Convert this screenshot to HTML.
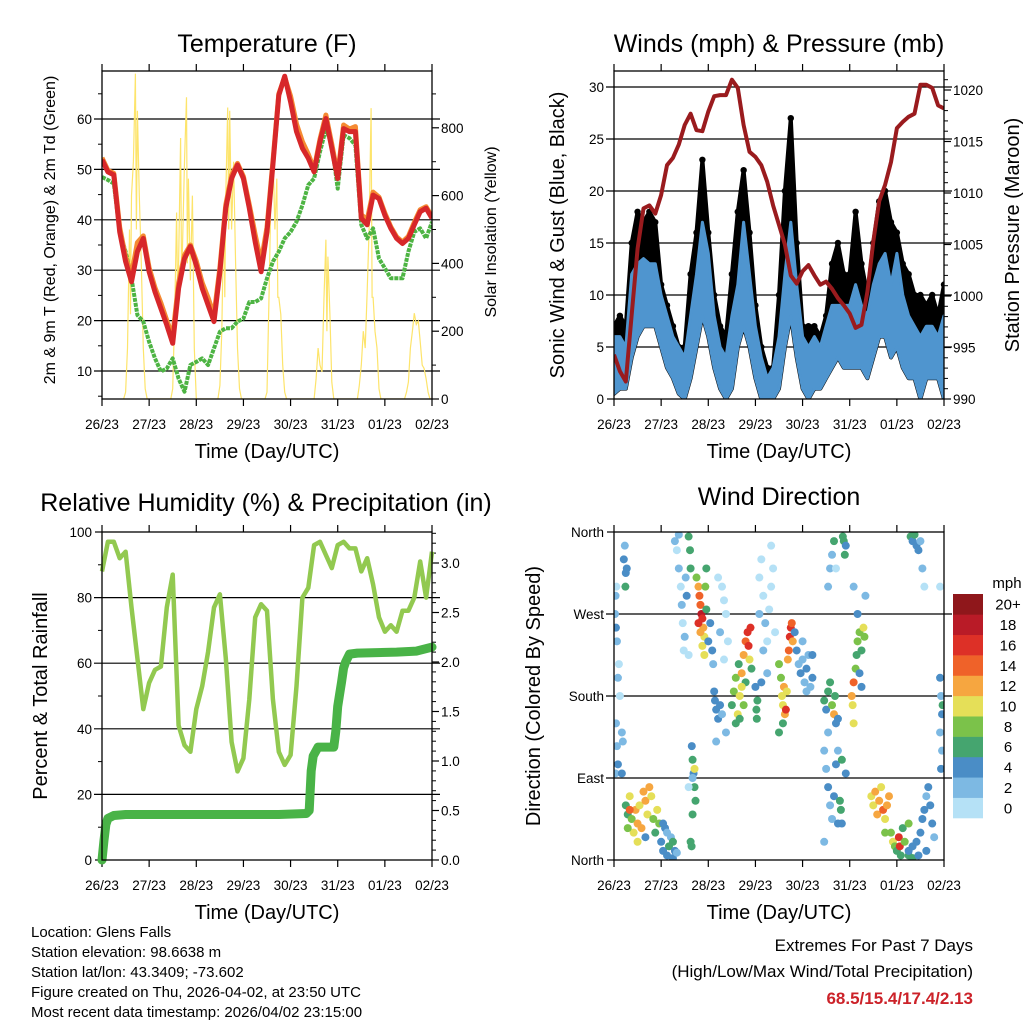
<!DOCTYPE html>
<html><head><meta charset="utf-8"><style>
html,body{margin:0;padding:0;background:#fff;}
svg{display:block;font-family:"Liberation Sans",Arial,sans-serif;}
</style></head><body>
<svg id="fig" width="1024" height="1024" viewBox="0 0 1024 1024" xmlns="http://www.w3.org/2000/svg">
<rect x="0" y="0" width="1024" height="1024" fill="#fff"/>
<text x="267" y="52" font-size="25" text-anchor="middle">Temperature (F)</text>
<text x="779" y="52" font-size="25" text-anchor="middle">Winds (mph) &amp; Pressure (mb)</text>
<text x="266" y="511" font-size="25" text-anchor="middle">Relative Humidity (%) &amp; Precipitation (in)</text>
<text x="779" y="505" font-size="25" text-anchor="middle">Wind Direction</text>
<text x="267" y="458" font-size="20" text-anchor="middle">Time (Day/UTC)</text>
<text x="779" y="458" font-size="20" text-anchor="middle">Time (Day/UTC)</text>
<text x="267" y="919" font-size="20" text-anchor="middle">Time (Day/UTC)</text>
<text x="779" y="919" font-size="20" text-anchor="middle">Time (Day/UTC)</text>
<text transform="translate(55,230) rotate(-90)" font-size="16" text-anchor="middle">2m &amp; 9m T (Red, Orange) &amp; 2m Td (Green)</text>
<text transform="translate(496,232) rotate(-90)" font-size="16" text-anchor="middle">Solar Insolation (Yellow)</text>
<text transform="translate(564,235) rotate(-90)" font-size="20" text-anchor="middle">Sonic Wind &amp; Gust (Blue, Black)</text>
<text transform="translate(1019,235) rotate(-90)" font-size="20" text-anchor="middle">Station Pressure (Maroon)</text>
<text transform="translate(47,696) rotate(-90)" font-size="20" text-anchor="middle">Percent &amp; Total Rainfall</text>
<text transform="translate(540,696) rotate(-90)" font-size="20" text-anchor="middle">Direction (Colored By Speed)</text>
<g font-size="15">
<text x="31" y="937">Location: Glens Falls</text>
<text x="31" y="957">Station elevation: 98.6638 m</text>
<text x="31" y="977">Station lat/lon: 43.3409; -73.602</text>
<text x="31" y="997">Figure created on Thu, 2026-04-02, at 23:50 UTC</text>
<text x="31" y="1017">Most recent data timestamp: 2026/04/02 23:15:00</text>
</g>
<text x="973" y="951" font-size="17" text-anchor="end">Extremes For Past 7 Days</text>
<text x="973" y="977" font-size="17" text-anchor="end">(High/Low/Max Wind/Total Precipitation)</text>
<text x="973" y="1004" font-size="17" font-weight="bold" fill="#cc2229" text-anchor="end">68.5/15.4/17.4/2.13</text>
<text x="1007" y="588" font-size="15" text-anchor="middle">mph</text>
</svg>
<script>
const dayLabels = ["26/23","27/23","28/23","29/23","30/23","31/23","01/23","02/23"];
const tHours = [0,3,6,9,12,15,18,21,24,27,30,33,36,39,42,45,48,51,54,57,60,63,66,69,72,75,78,81,84,87,90,93,96,99,102,105,108,111,114,117,120,123,126,129,132,135,138,141,144,147,150,153,156,159,162,165,168];
const temp2m = [51.9,49.5,48.9,37.6,31.7,27.7,33.7,36.3,29.7,25.7,22.4,19.1,15.5,26.4,32.3,34.7,31,26.4,23.1,19.8,29.7,42.3,48.2,50.9,48.2,42.3,35.6,29.7,37.6,50.9,64.7,68.5,63.4,57.5,54.2,52.2,49.5,55.5,60.1,54.2,48.2,58.1,57.5,57.5,40.3,39,44.9,44.2,40.9,38.3,36.3,35.3,36.3,39,41.6,42.3,40.3];
const temp9m = [52.3,49.8,49.2,38.5,32.5,29,35.5,36.8,30.5,26.5,23.5,20,16.8,27.5,33,35,31.8,27.5,24.5,21,30.5,43,48.8,51.2,48.6,43,37,31.5,38.5,51.5,65,68.3,64.5,59,55.5,53,50,56,60.8,55,48.8,58.8,58,58.5,41,40,45.5,44.5,41.3,38.6,36.6,35.6,36.7,39.5,42,42.6,40.6];
const dewpt = [48.5,47.9,47.2,37.6,33.7,28.4,21.1,19.8,15.8,12.5,9.9,10.5,12.5,8.5,5.9,11.2,11.8,12.5,11.2,14.5,17.8,18.5,18.5,19.8,20.4,23.7,23.7,24.4,28.4,31.7,33.7,36.3,37.6,39.6,42.9,46.9,48.2,53.5,58.1,54.8,46.2,56.8,56.2,54.8,39,36.3,38.3,32.3,30.4,28.4,28.4,28.4,33.7,37.6,38.3,36.3,39.6];
const solarHours = [11,12,13,14,14.5,15,16,17,17.5,18,19,20,21,22,23, 35,36,37,38,38.5,39,40,40.5,41,42,43,43.5,44,45,46,47,48, 59,60,61,62,62.5,63,64,64.5,65,66,67,68,69,70,71, 83,84,85,86,87,88,89,89.5,90,91,92,93,94, 108,109,110,111,112,113,114,114.5,115,116,117,118, 130,131,132,133,134,135,136,137,137.5,138,139,140,141,142, 154,155,156,157,158,159,160,161,162,163,164,165,166,167];
const solarVals = [0,20,150,500,250,600,700,960,500,850,600,400,150,30,0, 0,30,250,550,300,400,770,350,450,700,890,400,650,350,600,150,0, 0,40,200,550,300,600,860,500,850,500,700,400,150,30,0, 0,20,300,600,740,500,650,300,300,250,100,20,0, 0,60,150,100,80,300,470,200,420,250,50,0, 0,40,100,200,150,320,500,858,300,300,200,150,30,0, 0,20,50,150,200,253,220,230,170,100,90,60,20,0];
const pressure = [994.3,992.7,991.7,998.2,1004.6,1008.5,1008.8,1008,1009.8,1012.7,1013.4,1014.7,1016.6,1017.7,1016.1,1016,1017.9,1019.4,1019.5,1019.5,1021,1020.2,1016.6,1014,1013.5,1012.7,1011.1,1008.8,1006.9,1005,1002,1001.2,1002.4,1003,1002,1001.1,1001.4,1000.7,999.8,999.1,998.3,996.9,997.2,1000.4,1005.3,1009.2,1010.8,1013,1016.3,1016.9,1017.4,1017.7,1020.5,1020.5,1020.2,1018.5,1018.2];
const windLo = [0.5,1,1,4,6,7,7,7,5,3,2,0.5,0,2,5,8,6,3,1,0,1,5,7,5,2,0,0,0,1,5,8,4,1,0,1,1,2,3,4,3,3,3,3,2,4,6,6,4,5,3,2,2,0,2,2,2,0];
const windHi = [6,6,5,12,13,13.5,13,13,10,8,6,5,4,8,12,17,14,8,5,4,8,11,17,12,7,4,2,3,6,12,17,11,6,5,6,5,7,9,9,9,9,11,9,8,11,13,14,11,14,10,8,7,6,7,7,6,8];
const gust = [7,8,7,15,18,17,18,17,11,9,7,5,5,12,16,23,16,10,7,6,12,18,22,16,9,5,3,3,10,20,27,15,7,7,7,6,8,13,15,12,12,18,13,10,15,19,20,17,16,13,12,10,10,9,10,8,11];
const rh = [88,97,97,92,94,77,61.5,46,54,58,59,77,87,41,35,33,46,53,63.5,77,81,61.5,36,27,31,49,74,78,76,49,33,29,32,53,80,83,96,97,93,89,96,97,95,95,88,92,84,74,69.6,71.6,69.6,76,76,80,91,80,94];
const precipHours = [0,1,2,3,6,12,30,60,90,104,105.5,106.5,107.5,110,118,119,120,121,122,123,124,126,130,150,160,168];
const precipVals = [0,0.2,0.36,0.42,0.45,0.46,0.46,0.46,0.46,0.47,0.5,0.9,1.05,1.14,1.14,1.3,1.55,1.68,1.8,1.94,2.0,2.08,2.09,2.1,2.11,2.15];
const dirHours = [0.5,0.8,1,1.2,1.5,2,2.5,1,1.5,2,0.7,3,4,4.5,5,5.5,6,5.8,6.5,4,
6,7,8,9,10,11,12,13,14,15,16,17,18,19,20,21,22,23,12,16,8,7,
24,25,26,27,28,29,30,31,25,27,32,30,
31,32,33,34,34.5,35,36,35.5,36.5,37,38,38.7,39,33,38,
39.6,40,40.5,41,41.5,40,39,39.5,41,40,38,
42,43,43.5,44,44.5,45,45.5,46,43,44,45,46,46.5,47,48,49,50,50.5,47,
51.4,52,53,54,51,55,55,56,57,54,58,52,57,53,56,
60,61,62,63,63.5,64,65,66,67,68,68.5,69,67,66,62,64,69.5,65,70,
72.5,73,72.7,72,
74,75,76,77,78,79,80,81,82,76,78,74,80,75,
84,85,85.5,86,86.5,87,87.5,88,88.5,89,89.5,90,90.5,91,86,84,
93,94,95,96,97,98,99,100,101,96,101,92,98,
107,108,109,110,111,112,112.5,113,114,109,107,108,109,110,111,112,113,114,115,115.5,116,114,107,109,110,111,112,113,
116.5,117,117.5,118,116,118,
121,122,123,123.5,124,125,126,127,127.5,121.5,122,125,126,124,122,128,
131,132,133,134,135,136,137,138,139,140,138,
141,142,143,144,145,145.5,146,147,148,150,152,150,
150,152,154,156,157,158,159,160,161,162,163,155,159,
151,152,153,154,155,156,157,158,
166,166.5,167,166,167,166.5,167.3,166];
const dirDegs = [270,290,255,300,240,200,215,150,125,105,95,180,140,130,330,345,315,300,320,95,
60,50,70,45,30,55,40,60,35,75,65,50,80,70,45,30,55,40,20,25,55,35,
20,10,35,5,15,25,2,10,40,30,8,20,
350,340,320,300,280,260,245,230,310,290,355,340,320,357,225,
125,110,95,80,65,50,20,15,100,90,80,
310,300,290,280,270,265,255,245,260,250,235,225,300,275,240,260,230,215,320,
175,165,155,170,185,160,300,285,270,250,240,130,140,310,220,
170,185,200,160,215,180,205,225,240,250,235,220,195,170,150,155,255,190,210,
165,175,155,190,
310,330,290,260,240,275,300,320,250,230,205,270,345,195,
215,200,180,170,190,160,165,185,220,230,245,255,260,240,150,140,
230,215,205,220,195,210,225,190,200,240,225,250,185,
175,165,185,195,170,160,180,150,155,140,120,100,80,60,45,70,105,120,65,55,40,40,20,300,320,335,350,320,
355,350,335,345,110,95,
180,195,210,225,240,250,230,255,245,170,150,205,190,270,300,290,
70,60,75,50,65,80,55,45,60,70,30,
30,20,15,10,25,15,5,35,20,5,2,40,
10,15,20,30,45,55,70,80,60,40,25,5,10,
355,350,357,345,340,350,320,300,
200,180,160,140,120,100,170,300];
const dirSpeeds = [2,3,4,1,2,2,1,2,3,4,3,1,2,3,4,3,4,6,4,4,
7,6,10,9,10,12,13,11,12,12,12,11,12,11,8,6,10,9,10,4,14,8,
4,5,4,4,6,3,4,5,5,3,3,6,
2,1,2,1,2,1,2,1,3,4,6,6,7,2,1,
4,6,5,6,7,7,6,6,10,2,1,
8,13,15,14,18,16,12,11,17,13,10,10,8,7,4,4,4,3,6,
4,4,5,4,4,3,1,0,1,2,1,3,2,0,1,
7,8,9,10,7,11,12,13,14,16,17,11,7,8,6,7,16,10,6,
6,7,6,5,
1,0,1,2,0,1,1,0,1,2,3,2,1,4,
8,9,10,11,12,13,16,10,12,14,16,17,14,12,6,6,
4,3,4,2,3,4,2,3,4,2,4,4,2,
6,5,7,6,8,12,6,5,4,3,2,3,4,3,2,4,4,3,6,7,5,4,3,2,3,2,6,1,
6,7,6,4,6,4,
12,14,9,6,8,9,6,10,8,10,10,4,5,4,3,2,
10,11,12,13,12,11,14,10,12,13,9,
9,10,8,7,16,17,6,7,8,6,6,8,
5,4,4,4,4,4,3,4,4,5,3,4,5,
7,5,6,4,4,3,3,1,
4,3,4,2,3,4,7,1];
const speedColors = ["#b5e1f6","#7db9e3","#4a8dc6","#45a56f","#7bc24a","#e5df58","#f6a640","#ef6229","#dd3027","#b91b27","#8f171b"];
const cbarLabels = ["0","2","4","6","8","10","12","14","16","18","20+"];

const NS = "http://www.w3.org/2000/svg";
const svg = document.getElementById("fig");
function mk(tag, attrs, parent) {
  const e = document.createElementNS(NS, tag);
  for (const k in attrs) e.setAttribute(k, attrs[k]);
  (parent || svg).appendChild(e);
  return e;
}
function pts(xs, ys, fx, fy) { return xs.map((h, i) => fx(h).toFixed(1) + "," + fy(ys[i]).toFixed(1)).join(" "); }

const P = {
  temp: {x0: 102, x1: 432, y0: 71, y1: 399},
  wind: {x0: 614, x1: 944, y0: 71, y1: 399},
  rh: {x0: 102, x1: 432, y0: 532, y1: 860},
  dir: {x0: 614, x1: 944, y0: 532, y1: 860}
};
function xScale(p) { return h => p.x0 + (p.x1 - p.x0) * h / 168; }
const xT = xScale(P.temp), xW = xScale(P.wind), xR = xScale(P.rh), xD = xScale(P.dir);
const yTemp = v => 421.4 - 5.04 * v;
const ySolar = v => 399 - 0.339 * v;
const ySpeed = v => 399 - 10.4 * v;
const yPres = v => 399 - 10.3 * (v - 990);
const yRH = v => 860 - 3.28 * v;
const yPrecip = v => 860 - 99 * v;
const yDir = v => 860 - 328 * v / 360;

function clip(id, p) {
  let defs = svg.querySelector("defs");
  if (!defs) { defs = mk("defs", {}); }
  const cp = mk("clipPath", {id: id}, defs);
  mk("rect", {x: p.x0, y: p.y0, width: p.x1 - p.x0, height: p.y1 - p.y0}, cp);
}
clip("cT", P.temp); clip("cW", P.wind); clip("cR", P.rh); clip("cD", P.dir);

function gridAndAxes(p, name, leftVals, leftFn, leftLabels, leftMinor, rightVals, rightFn, rightLabels, rightMinor) {
  const g = mk("g", {});
  
  
  leftVals.forEach((v, i) => {
    const y = leftFn(v);
    if (Math.abs(y - p.y0) > 2 && Math.abs(y - p.y1) > 2) {
      const gl = mk("line", {x1: p.x0 - 8, x2: p.x1 + 8, y1: y, y2: y, stroke: "#000", "stroke-width": 1.2}, g);
      
      
    } else {
      const tk = mk("line", {x1: p.x0 - 7, x2: p.x0, y1: y, y2: y, stroke: "#000", "stroke-width": 1.2}, g);
      
      
    }
    const t = mk("text", {x: p.x0 - 10, y: y + 5, "font-size": 13.5, "text-anchor": "end"}, g);
    t.textContent = leftLabels[i];
    
    
  });
  leftMinor.forEach(v => {
    const y = leftFn(v);
    const tk = mk("line", {x1: p.x0 - 4, x2: p.x0, y1: y, y2: y, stroke: "#000", "stroke-width": 1}, g);
    
    
  });
  rightVals.forEach((v, i) => {
    const y = rightFn(v);
    const tk = mk("line", {x1: p.x1, x2: p.x1 + 7, y1: y, y2: y, stroke: "#000", "stroke-width": 1.2}, g);
    
    
    const t = mk("text", {x: p.x1 + 9, y: y + 5, "font-size": 13.5}, g);
    t.textContent = rightLabels[i];
    
    
  });
  rightMinor.forEach(v => {
    const y = rightFn(v);
    const tk = mk("line", {x1: p.x1, x2: p.x1 + 4, y1: y, y2: y, stroke: "#000", "stroke-width": 1}, g);
    
    
  });
  const xs = xScale(p);
  dayLabels.forEach((lab, i) => {
    const x = xs(i * 24);
    const tb = mk("line", {x1: x, x2: x, y1: p.y1, y2: p.y1 + 7, stroke: "#000", "stroke-width": 1.2}, g);
    
    
    const tt = mk("line", {x1: x, x2: x, y1: p.y0 - 7, y2: p.y0, stroke: "#000", "stroke-width": 1.2}, g);
    
    
    const t = mk("text", {x: x, y: p.y1 + 30, "font-size": 13.5, "text-anchor": "middle"}, g);
    t.textContent = lab;
    
    
  });
}
function frame(p, name) {
  const r = mk("rect", {x: p.x0, y: p.y0, width: p.x1 - p.x0, height: p.y1 - p.y0, fill: "none", stroke: "#000", "stroke-width": 1.3});
  
  
}
function range(a, b, s) { const o = []; for (let v = a; v <= b + 1e-9; v += s) o.push(+v.toFixed(3)); return o; }

// Temperature panel
gridAndAxes(P.temp, "temp", [10,20,30,40,50,60], yTemp, ["10","20","30","40","50","60"], [5,15,25,35,45,55,65],
  [0,200,400,600,800], ySolar, ["0","200","400","600","800"], [100,300,500,700,900]);
const gT = mk("g", {"clip-path": "url(#cT)"});


const sol = mk("polyline", {points: pts(solarHours, solarVals, xT, ySolar), fill: "none", stroke: "#fde46b", "stroke-width": 1.2}, gT);


const dew = mk("polyline", {points: pts(tHours, dewpt, xT, yTemp), fill: "none", stroke: "#4db443", "stroke-width": 4, "stroke-dasharray": "4 1", "stroke-linejoin": "round"}, gT);


const t9 = mk("polyline", {points: pts(tHours, temp9m, xT, yTemp), fill: "none", stroke: "#f58a32", "stroke-width": 5, "stroke-linejoin": "round"}, gT);


const t2 = mk("polyline", {points: pts(tHours, temp2m, xT, yTemp), fill: "none", stroke: "#d7272a", "stroke-width": 5, "stroke-linejoin": "round"}, gT);


frame(P.temp, "temp");

// Winds panel
gridAndAxes(P.wind, "wind", [0,5,10,15,20,25,30], ySpeed, ["0","5","10","15","20","25","30"], [],
  [990,995,1000,1005,1010,1015,1020], yPres, ["990","995","1000","1005","1010","1015","1020"], range(990, 1021, 1));
const gW = mk("g", {"clip-path": "url(#cW)"});


const gustBand = mk("polygon", {points: pts(tHours, gust, xW, ySpeed) + " " + pts(tHours.slice().reverse(), windLo.slice().reverse(), xW, ySpeed), fill: "#000", stroke: "#000", "stroke-width": 4, "stroke-linejoin": "round"}, gW);


tHours.forEach((h, i) => {
  const c = mk("circle", {cx: xW(h), cy: ySpeed(gust[i]), r: 3.2, fill: "#000"}, gW);
  
  
});
const windBand = mk("polygon", {points: pts(tHours, windHi, xW, ySpeed) + " " + pts(tHours.slice().reverse(), windLo.slice().reverse(), xW, ySpeed), fill: "#4f95cf", stroke: "#4f95cf", "stroke-width": 3, "stroke-linejoin": "round"}, gW);


const pres = mk("polyline", {points: pts(tHours, pressure, xW, yPres), fill: "none", stroke: "#9a1b1e", "stroke-width": 4, "stroke-linejoin": "round"}, gW);


frame(P.wind, "wind");

// RH panel
gridAndAxes(P.rh, "rh", [0,20,40,60,80,100], yRH, ["0","20","40","60","80","100"], [10,30,50,70,90],
  [0,0.5,1,1.5,2,2.5,3], yPrecip, ["0.0","0.5","1.0","1.5","2.0","2.5","3.0"], range(0, 3.3, 0.1));
const gR = mk("g", {});


const rhl = mk("polyline", {points: pts(tHours, rh, xR, yRH), fill: "none", stroke: "#92c950", "stroke-width": 4.5, "stroke-linejoin": "round"}, gR);


const prl = mk("polyline", {points: pts(precipHours, precipVals, xR, yPrecip), fill: "none", stroke: "#49b347", "stroke-width": 9, "stroke-linejoin": "round", "stroke-linecap": "round"}, gR);


frame(P.rh, "rh");

// Wind direction panel
gridAndAxes(P.dir, "dir", [0,90,180,270,360], yDir, ["North","East","South","West","North"], [], [], yDir, [], []);
const gD = mk("g", {"clip-path": "url(#cD)"});


dirHours.forEach((h, i) => {
  const idx = Math.min(10, Math.floor(dirSpeeds[i] / 2));
  const c = mk("circle", {cx: xD(h), cy: yDir(dirDegs[i]), r: 4, fill: speedColors[idx]}, gD);
  
  
});
frame(P.dir, "dir");

// colorbar
const gC = mk("g", {});


const cbTop = 594, cbH = (818 - 594) / 11;
cbarLabels.forEach((lab, i) => {
  const j = 10 - i;
  const r = mk("rect", {x: 953, y: cbTop + j * cbH, width: 30, height: cbH + 0.3, fill: speedColors[i]}, gC);
  
  
  const t = mk("text", {x: 1008, y: cbTop + j * cbH + cbH / 2 + 5.5, "font-size": 15, "text-anchor": "middle"}, gC);
  t.textContent = lab;
  
  
});
</script>
</body></html>
